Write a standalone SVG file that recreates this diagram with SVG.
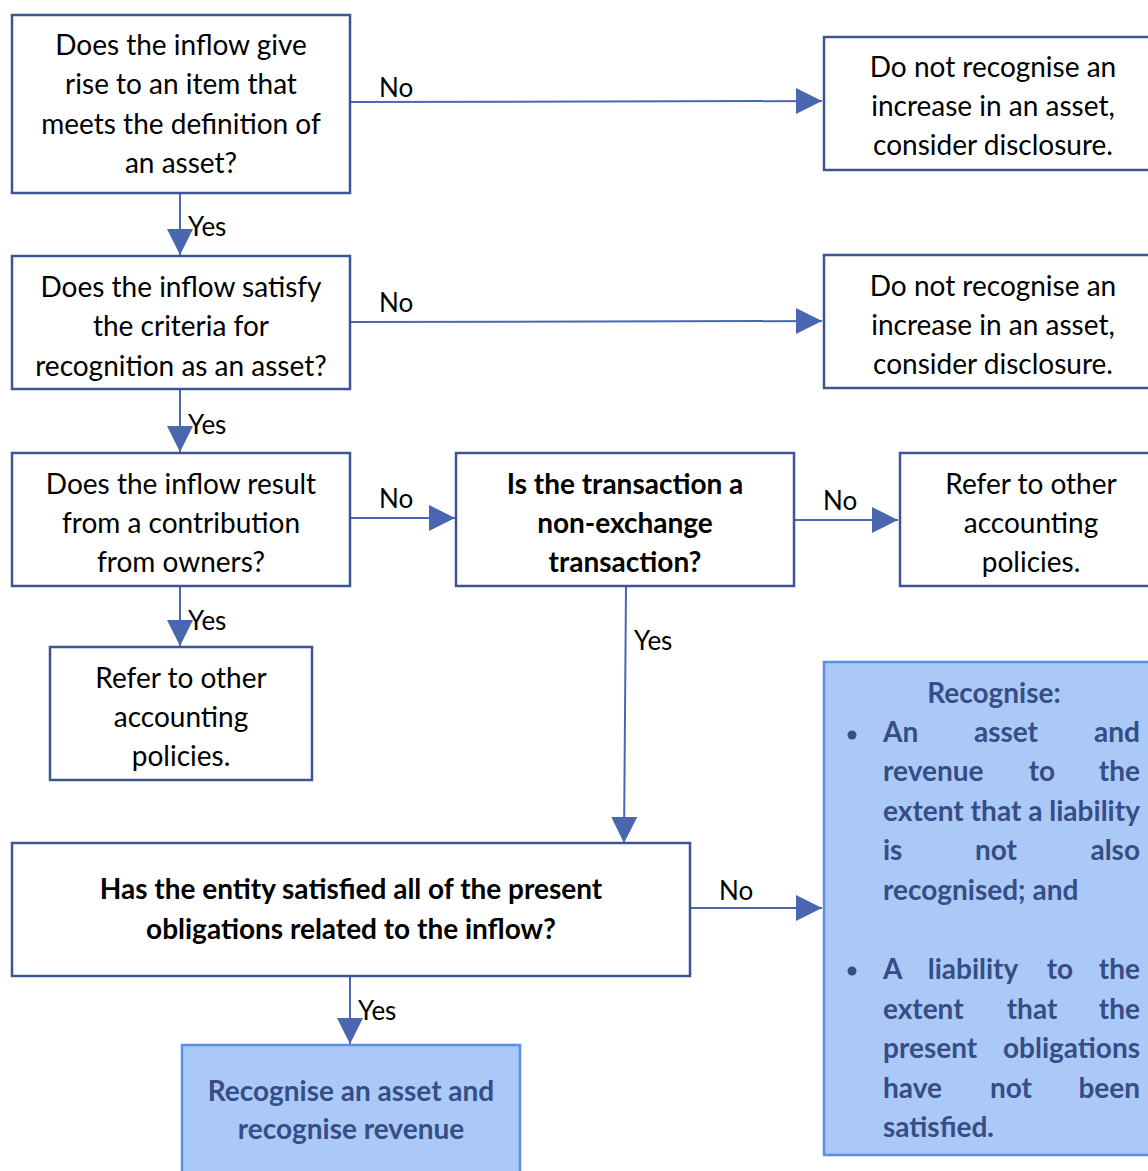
<svg xmlns="http://www.w3.org/2000/svg" width="1148" height="1171" viewBox="0 0 1148 1171">
<style>
.n{fill:#fff;stroke:#3d5494;stroke-width:2.5}
.b{fill:#abc9f6;stroke:#5a8fe4;stroke-width:2.5}
.t{font-family:Lato,"Noto Sans",sans-serif;font-size:28px;fill:#000;text-anchor:middle}
.tb{font-family:Lato,"Noto Sans",sans-serif;font-size:28px;font-weight:bold;fill:#000;text-anchor:middle}
.tw{font-family:Lato,"Noto Sans",sans-serif;font-size:28px;font-weight:bold;fill:#364d87}
.l{font-family:Lato,"Noto Sans",sans-serif;font-size:26px;fill:#000}
.c{fill:none;stroke:#4a66b0;stroke-width:2;marker-end:url(#ah)}
</style>
<defs>
<marker id="ah" markerUnits="userSpaceOnUse" markerWidth="28" markerHeight="28" refX="26" refY="13" orient="auto">
<path d="M0,0 L26,13 L0,26 Z" fill="#4a66b0"/>
</marker>
</defs>
<g id="connectors">
<path class="c" d="M350,102 L822,101"/>
<path class="c" d="M180,193 L180,255"/>
<path class="c" d="M350,322 L822,321"/>
<path class="c" d="M180,389 L180,452"/>
<path class="c" d="M350,518 L455,518"/>
<path class="c" d="M794,520 L898,520"/>
<path class="c" d="M180,586 L180,646"/>
<path class="c" d="M626,587 L624,843"/>
<path class="c" d="M690,908 L822,908"/>
<path class="c" d="M350,976 L350,1044"/>
<text class="l" x="379" y="97">No</text>
<text class="l" x="188" y="236">Yes</text>
<text class="l" x="379" y="312">No</text>
<text class="l" x="188" y="434">Yes</text>
<text class="l" x="379" y="508">No</text>
<text class="l" x="823" y="510">No</text>
<text class="l" x="188" y="630">Yes</text>
<text class="l" x="634" y="650">Yes</text>
<text class="l" x="719" y="900">No</text>
<text class="l" x="358" y="1020">Yes</text>
</g>
<g id="q1">
<rect class="n" x="12" y="15" width="338" height="178"/>
<text class="t" x="181" y="55">Does the inflow give</text>
<text class="t" x="181" y="94">rise to an item that</text>
<text class="t" x="181" y="134">meets the definition of</text>
<text class="t" x="181" y="173">an asset?</text>
</g>
<g id="r1">
<rect class="n" x="824" y="37" width="330" height="133"/>
<text class="t" x="993" y="77">Do not recognise an</text>
<text class="t" x="993" y="116">increase in an asset,</text>
<text class="t" x="993" y="155">consider disclosure.</text>
</g>
<g id="q2">
<rect class="n" x="12" y="256" width="338" height="133"/>
<text class="t" x="181" y="297">Does the inflow satisfy</text>
<text class="t" x="181" y="336">the criteria for</text>
<text class="t" x="181" y="376">recognition as an asset?</text>
</g>
<g id="r2">
<rect class="n" x="824" y="255" width="330" height="133"/>
<text class="t" x="993" y="296">Do not recognise an</text>
<text class="t" x="993" y="335">increase in an asset,</text>
<text class="t" x="993" y="374">consider disclosure.</text>
</g>
<g id="q3">
<rect class="n" x="12" y="453" width="338" height="133"/>
<text class="t" x="181" y="494">Does the inflow result</text>
<text class="t" x="181" y="533">from a contribution</text>
<text class="t" x="181" y="572">from owners?</text>
</g>
<g id="q4">
<rect class="n" x="456" y="453" width="338" height="133"/>
<text class="tb" x="625" y="494">Is the transaction a</text>
<text class="tb" x="625" y="533">non-exchange</text>
<text class="tb" x="625" y="572">transaction?</text>
</g>
<g id="r3">
<rect class="n" x="900" y="453" width="254" height="133"/>
<text class="t" x="1031" y="494">Refer to other</text>
<text class="t" x="1031" y="533">accounting</text>
<text class="t" x="1031" y="572">policies.</text>
</g>
<g id="r4">
<rect class="n" x="50" y="647" width="262" height="133"/>
<text class="t" x="181" y="688">Refer to other</text>
<text class="t" x="181" y="727">accounting</text>
<text class="t" x="181" y="766">policies.</text>
</g>
<g id="q5">
<rect class="n" x="12" y="843" width="678" height="133"/>
<text class="tb" x="351" y="899">Has the entity satisfied all of the present</text>
<text class="tb" x="351" y="939">obligations related to the inflow?</text>
</g>
<g id="r5">
<rect class="b" x="824" y="662" width="330" height="493"/>
<text class="tw" x="994" y="703" text-anchor="middle">Recognise:</text>
<circle cx="852" cy="735" r="4.5" fill="#364d87"/>
<circle cx="852" cy="971" r="4.5" fill="#364d87"/>
<text class="tw" x="883" y="742">An</text>
<text class="tw" x="1006" y="742" text-anchor="middle">asset</text>
<text class="tw" x="1140" y="742" text-anchor="end">and</text>
<text class="tw" x="883" y="781">revenue</text>
<text class="tw" x="1042" y="781" text-anchor="middle">to</text>
<text class="tw" x="1140" y="781" text-anchor="end">the</text>
<text class="tw" x="883" y="821" textLength="257" lengthAdjust="spacingAndGlyphs">extent that a liability</text>
<text class="tw" x="883" y="860">is</text>
<text class="tw" x="996" y="860" text-anchor="middle">not</text>
<text class="tw" x="1140" y="860" text-anchor="end">also</text>
<text class="tw" x="883" y="900">recognised; and</text>
<text class="tw" x="883" y="979">A</text>
<text class="tw" x="973" y="979" text-anchor="middle">liability</text>
<text class="tw" x="1060" y="979" text-anchor="middle">to</text>
<text class="tw" x="1140" y="979" text-anchor="end">the</text>
<text class="tw" x="883" y="1019">extent</text>
<text class="tw" x="1032" y="1019" text-anchor="middle">that</text>
<text class="tw" x="1140" y="1019" text-anchor="end">the</text>
<text class="tw" x="883" y="1058">present</text>
<text class="tw" x="1140" y="1058" text-anchor="end">obligations</text>
<text class="tw" x="883" y="1098">have</text>
<text class="tw" x="1011" y="1098" text-anchor="middle">not</text>
<text class="tw" x="1140" y="1098" text-anchor="end">been</text>
<text class="tw" x="883" y="1137">satisfied.</text>
</g>
<g id="r6">
<rect class="b" x="182" y="1045" width="338" height="140"/>
<text class="tw" x="351" y="1101" text-anchor="middle">Recognise an asset and</text>
<text class="tw" x="351" y="1139" text-anchor="middle">recognise revenue</text>
</g>
</svg>
